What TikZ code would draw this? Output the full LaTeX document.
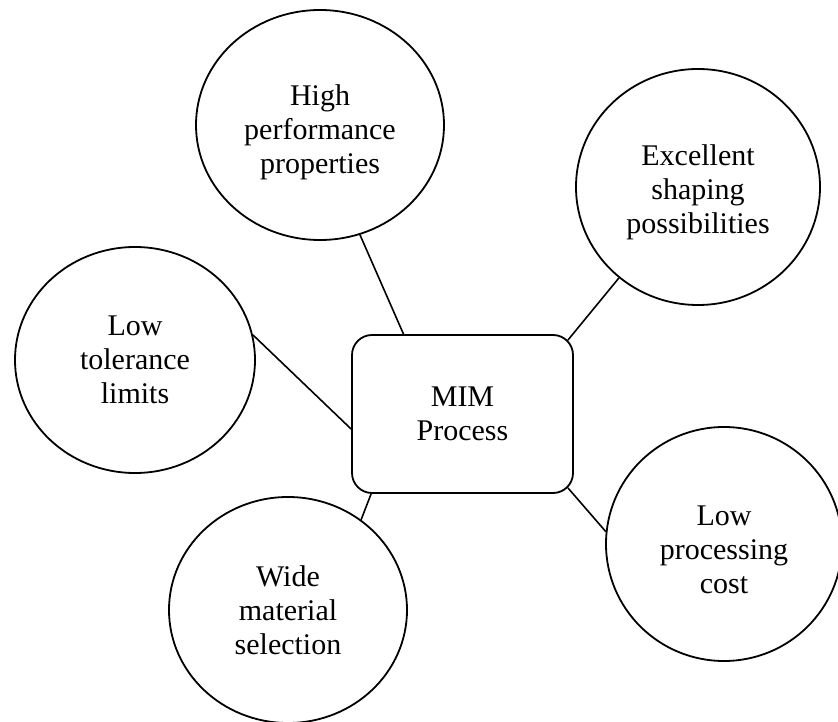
\documentclass[tikz,border=0pt]{standalone}
\usepackage{fontspec}
\setmainfont{Liberation Serif}
\usetikzlibrary{shapes.geometric,calc}
\tikzset{
  bubble/.style={ellipse, draw, line width=1.8pt, inner sep=0pt, align=center,
    font=\fontsize{30}{34}\selectfont},
  bubbletext/.style={align=center, inner sep=0pt, font=\fontsize{30}{34}\selectfont},
  centerbox/.style={rectangle, draw, line width=1.8pt, rounded corners=20pt,
    inner sep=0pt, align=center, minimum width=221pt, minimum height=158pt,
    font=\fontsize{30}{34}\selectfont},
  link/.style={line width=1.6pt}
}
\begin{document}
\begin{tikzpicture}[x=1pt,y=1pt]
\fill[white] (0,0) rectangle (838,721);
\useasboundingbox (0,0) rectangle (838,721);

\node[centerbox] (mim) at (462.5,307) {MIM\\Process};

\node[bubble, minimum width=248pt, minimum height=230pt,
  label={[bubbletext, yshift=-7pt]center:{High\\performance\\properties}}] (hp) at (320,596) {};
\node[bubble, minimum width=244pt, minimum height=236pt,
  label={[bubbletext, yshift=-5pt]center:{Excellent\\shaping\\possibilities}}] (ex) at (698,534) {};
\node[bubble, minimum width=240pt, minimum height=226pt] (lt) at (135,361)
  {Low\\tolerance\\limits};
\node[bubble, minimum width=236pt, minimum height=234pt,
  label={[bubbletext, yshift=-6pt]center:{Low\\processing\\cost}}] (lc) at (724,177) {};
\node[bubble, minimum width=238pt, minimum height=226pt] (wm) at (288,111)
  {Wide\\material\\selection};

\draw[link] (hp.290.4) -- ([xshift=-59pt]mim.north);
\draw[link] (ex.229.4) -- ($(mim.north east)+(-6,-6)$);
\draw[link] (lt.12) -- ([yshift=-15pt]mim.west);
\draw[link] (wm.51) -- ([xshift=20pt]mim.south west);
\draw[link] (lc.174) -- ($(mim.south east)+(-6,6)$);
\end{tikzpicture}
\end{document}
